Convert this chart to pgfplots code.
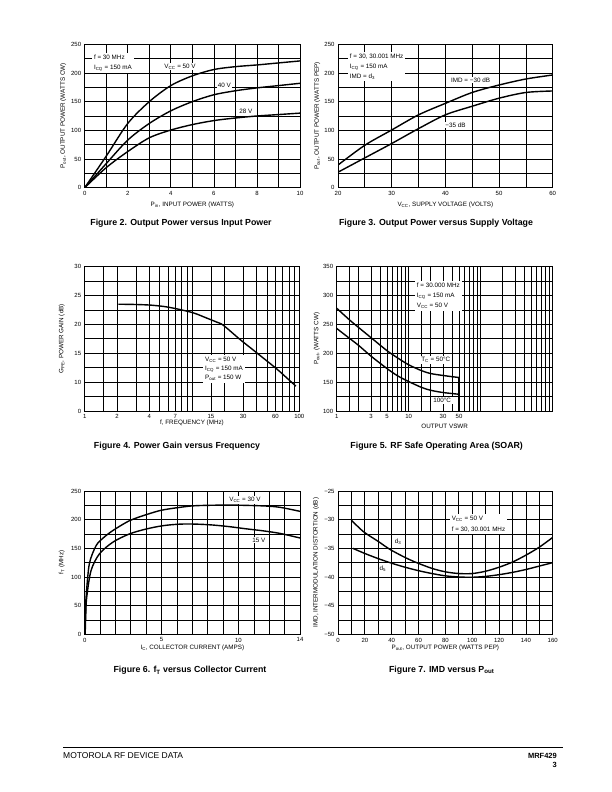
\documentclass[border=0pt]{standalone}
\usepackage{fontspec}
\setmainfont{Liberation Sans}
\usepackage{pgfplots}
\pgfplotsset{compat=1.18}
\newcommand{\tkf}{\fontsize{6}{7}\selectfont}
\newcommand{\lbf}{\fontsize{6.3}{7.5}\selectfont}
\newcommand{\anf}{\fontsize{6.3}{10}\selectfont}
\newcommand{\capf}{\bfseries\fontsize{8.8}{10}\selectfont}
\tikzset{ann/.style={fill=white, inner sep=2pt, font=\anf, align=left},
  figcap/.style={font=\capf, anchor=base, inner sep=0pt}}
\pgfplotsset{
  ds/.style={
    scale only axis, anchor=south west,
    axis line style={line width=0.9pt},
    grid=both,
    major grid style={black, line width=0.7pt},
    minor grid style={black, line width=0.7pt},
    tick style={draw=none},
    ticklabel style={font=\tkf},
    label style={font=\lbf},
    /pgf/number format/assume math mode=true,
    every axis plot post/.append style={line width=1.4pt, black, smooth, mark=none},
  },
  xl/.style={xlabel style={at={(axis description cs:0.5,0)}, anchor=center, yshift=-#1}},
  yl/.style={ylabel style={at={([xshift=-#1]axis description cs:0,0.5)}, anchor=center}},
}
\begin{document}
\begin{tikzpicture}
\path[use as bounding box, fill=white] (0pt,0pt) rectangle (612pt,792pt);

% ---------------- Figure 2
\begin{axis}[ds, at={(84.7pt,604.3pt)}, width=215.3pt, height=143.4pt,
  xmin=0, xmax=10, ymin=0, ymax=250,
  xtick={0,2,...,10}, minor xtick={1,3,...,9},
  ytick={0,50,...,250}, minor ytick={25,75,...,225},
  xlabel={P\textsubscript{in}, INPUT POWER (WATTS)}, xl=17.3pt,
  ylabel={P\textsubscript{out}, OUTPUT POWER (WATTS CW)}, yl=21.4pt]
\addplot coordinates {(0,0)(1,55)(2,112)(3,150)(4,178)(5,195)(6,206)(7,211)(8,214)(9,217.5)(10,221)};
\addplot coordinates {(0,0)(1,42)(2,83)(3,112)(4,134)(5,150)(6,162)(7,169)(8,174)(9,178)(10,182)};
\addplot coordinates {(0,0)(1,35)(2,63)(3,87)(4,100.5)(5,110)(6,117)(7,121.5)(8,125)(9,127.5)(10,130)};
\node[ann] at (axis cs:1.31,217) {f = 30 MHz\\I\textsubscript{CQ} = 150 mA};
\node[fill=white, inner sep=1pt, font=\anf] at (axis cs:4.43,211) {V\textsubscript{CC} = 50 V};
\node[fill=white, inner sep=1pt, font=\anf] at (axis cs:6.49,179) {40 V};
\node[fill=white, inner sep=1pt, font=\anf] at (axis cs:7.49,133.7) {28 V};
\end{axis}
\node[figcap] at (181pt,566.5pt) {Figure 2. Output Power versus Input Power};

% ---------------- Figure 3
\begin{axis}[ds, at={(338pt,604.3pt)}, width=214.7pt, height=143.4pt,
  xmin=20, xmax=60, ymin=0, ymax=250,
  xtick={20,30,...,60}, minor xtick={25,35,45,55},
  ytick={0,50,...,250}, minor ytick={25,75,...,225},
  xlabel={V\textsubscript{CC}, SUPPLY VOLTAGE (VOLTS)}, xl=17.3pt,
  ylabel={P\textsubscript{out}, OUTPUT POWER (WATTS PEP)}, yl=20.7pt]
\addplot coordinates {(20,39.5)(25,74)(30,100.6)(35,127)(40,147)(45,166)(50,179)(55,189.5)(60,196.5)};
\addplot coordinates {(20,27)(25,52)(30,77)(35,103)(40,127)(45,142)(50,156)(55,166)(60,168.6)};
\node[ann] at (axis cs:27.2,211.3) {f = 30, 30.001 MHz\\I\textsubscript{CQ} = 150 mA\\IMD = d\textsubscript{3}};
\node[fill=white, inner sep=1pt, font=\anf] at (axis cs:44.7,187.8) {IMD = −30 dB};
\node[fill=white, inner sep=1pt, font=\anf] at (axis cs:41.9,109.3) {−35 dB};
\end{axis}
\node[figcap] at (436pt,566.5pt) {Figure 3. Output Power versus Supply Voltage};

% ---------------- Figure 4
\begin{axis}[ds, at={(84.7pt,381pt)}, width=214.6pt, height=144.3pt,
  xmode=log, xmin=1, xmax=100, ymin=5, ymax=30,
  xtick={1,2,4,7,15,30,60,100}, xticklabels={1,2,4,7,15,30,60,100},
  minor xtick={1.5,3,5,6,8,9,10,20,40,50,70,80,90},
  ytick={5,10,15,20,25,30}, yticklabels={0,10,15,20,25,30},
  minor ytick={7.5,12.5,17.5,22.5,27.5},
  xlabel={f, FREQUENCY (MHz)}, xl=12.3pt,
  ylabel={G\textsubscript{PE}, POWER GAIN (dB)}, yl=23pt]
\addplot coordinates {(2.06,23.5)(3,23.45)(4.06,23.35)(5.5,23.1)(7.2,22.7)(10.3,22.0)(13.7,21.1)(17,20.4)(19.6,19.85)(28,17.4)(40,15.1)(61.5,12.3)(80,10.4)(93,9.3)};
\node[fill=white, inner sep=2pt, font=\fontsize{6.3}{9.3}\selectfont, align=left] at (axis cs:19.9,12.3) {V\textsubscript{CC} = 50 V\\I\textsubscript{CQ} = 150 mA\\P\textsubscript{out} = 150 W};
\end{axis}
\node[figcap] at (177pt,343pt) {Figure 4. Power Gain versus Frequency};

% ---------------- Figure 5
\begin{axis}[ds, at={(336.7pt,381pt)}, width=216pt, height=144.3pt,
  xmode=log, xmin=1, xmax=1000, ymin=100, ymax=350,
  xtick={1,3,5,10,30,50}, xticklabels={1,3,5,10,30,50},
  minor xtick={1.5,2,4,6,7,8,9,15,20,40,60,70,80,90,100,200,300,400,500,600,700,800,900},
  ytick={100,150,...,350}, minor ytick={125,175,...,325},
  xlabel={OUTPUT VSWR}, xl=15.7pt,
  ylabel={P\textsubscript{out}, (WATTS CW)}, yl=20pt]
\addplot coordinates {(1,278)(1.5,258)(2,245)(3,227)(5,204.5)(7,192)(10,180)(15,170)(20,165)(30,161.5)(50,158)};
\addplot coordinates {(1,243)(1.5,226)(2,214)(3,195)(5,173.5)(7,161)(10,151)(15,141)(20,136)(30,132)(50,129)};
\addplot coordinates {(50,158)(50,100)};
\node[ann] at (axis cs:25.8,299.6) {f = 30.000 MHz\\I\textsubscript{CQ} = 150 mA\\V\textsubscript{CC} = 50 V};
\node[fill=white, inner sep=1pt, font=\anf] at (axis cs:23.7,188.4) {T\textsubscript{C} = 50°C};
\node[fill=white, inner sep=1.5pt, font=\anf] at (axis cs:29.2,117.8) {100°C};
\end{axis}
\node[figcap] at (436.7pt,343pt) {Figure 5. RF Safe Operating Area (SOAR)};

% ---------------- Figure 6
\begin{axis}[ds, at={(84.7pt,157.7pt)}, width=215.3pt, height=143.3pt,
  xmin=0, xmax=14, ymin=0, ymax=250,
  xtick={0,5,10,14}, minor xtick={1,2,3,4,6,7,8,9,11,12,13},
  ytick={0,50,...,250}, minor ytick={25,75,...,225},
  xlabel={I\textsubscript{C}, COLLECTOR CURRENT (AMPS)}, xl=14pt,
  ylabel={f\textsubscript{T} (MHz)}, yl=23pt]
\addplot coordinates {(0.02,0)(0.05,35)(0.09,64.5)(0.3,122.7)(0.74,154.6)(1.2,168)(1.82,180.8)(2.9,198)(4,208.7)(5,216.5)(6.2,221.5)(7.25,224.4)(9.4,225.4)(11.6,224)(12.7,221.5)(14,214.5)};
\addplot coordinates {(0.03,0)(0.07,35)(0.13,64.5)(0.41,111)(0.95,140)(1.82,160.5)(2.9,175)(4,183.7)(5.1,189.5)(6.2,192.2)(7.25,192.2)(8.3,190.7)(9.4,187.8)(10.5,184)(11.6,180.5)(12.7,176)(14,168)};
\node[fill=white, inner sep=1.5pt, font=\anf] at (axis cs:10.42,234.4) {V\textsubscript{CC} = 30 V};
\node[fill=white, inner sep=1pt, font=\anf] at (axis cs:11.33,164.6) {15 V};
\end{axis}
\node[figcap] at (190pt,119pt) {Figure 6. f\textsubscript{T} versus Collector Current};

% ---------------- Figure 7
\begin{axis}[ds, at={(338pt,157.7pt)}, width=214.7pt, height=143.3pt,
  xmin=0, xmax=160, ymin=-50, ymax=-25,
  xtick={0,20,...,160}, minor xtick={10,30,...,150},
  ytick={-50,-45,...,-25}, yticklabels={−50,−45,−40,−35,−30,−25},
  minor ytick={-47.5,-42.5,-37.5,-32.5,-27.5},
  xlabel={P\textsubscript{out}, OUTPUT POWER (WATTS PEP)}, xl=14pt,
  ylabel={IMD, INTERMODULATION DISTORTION (dB)}, yl=22pt]
\addplot coordinates {(10,-30.1)(19,-32.1)(30,-33.8)(38.8,-35.2)(50,-36.6)(58.6,-37.5)(70,-38.5)(80,-39.1)(90,-39.4)(100,-39.4)(110,-39)(120,-38.3)(130,-37.4)(140,-36.2)(150,-34.8)(160,-33.1)};
\addplot coordinates {(11,-35)(20,-35.9)(30,-36.8)(40,-37.6)(50,-38.3)(60,-38.9)(70,-39.4)(80,-39.8)(90,-40)(100,-40.05)(110,-39.9)(120,-39.6)(130,-39.2)(140,-38.7)(150,-38.1)(160,-37.5)};
\node[fill=white, inner sep=2pt, font=\fontsize{6.3}{10.7}\selectfont, align=left] at (axis cs:104.7,-30.8) {V\textsubscript{CC} = 50 V\\f = 30, 30.001 MHz};
\node[font=\anf] at (axis cs:44.7,-33.8) {d\textsubscript{3}};
\node[font=\anf] at (axis cs:33.5,-38.6) {d\textsubscript{5}};
\end{axis}
\node[figcap] at (441.7pt,119pt) {Figure 7. IMD versus P\textsubscript{out}};

% ---------------- Footer
\draw[line width=0.9pt] (63pt,44.7pt) -- (563pt,44.7pt);
\node[anchor=base west, inner sep=0pt, font=\fontsize{8.5}{10}\selectfont] at (63pt,33pt) {MOTOROLA RF DEVICE DATA};
\node[anchor=base east, inner sep=0pt, font=\bfseries\fontsize{7.5}{9}\selectfont] at (557pt,33pt) {MRF429};
\node[anchor=base east, inner sep=0pt, font=\bfseries\fontsize{7.5}{9}\selectfont] at (557pt,24pt) {3};
\end{tikzpicture}
\end{document}
